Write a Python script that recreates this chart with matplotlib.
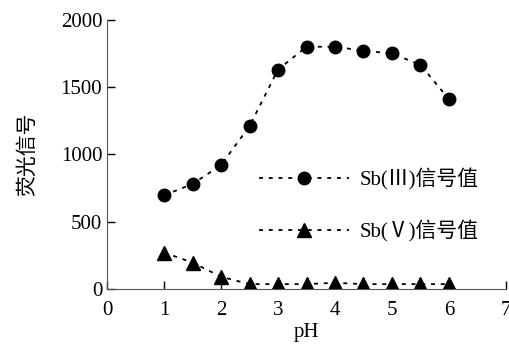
import matplotlib
matplotlib.use('Agg')
import matplotlib.pyplot as plt

plt.rcParams['font.family'] = ['Liberation Serif', 'Noto Sans CJK SC']

ph = [1, 1.5, 2, 2.5, 3, 3.5, 4, 4.5, 5, 5.5, 6]
sb3 = [695, 780, 920, 1210, 1630, 1800, 1800, 1770, 1750, 1665, 1410]
sb5 = [270, 195, 90, 35, 35, 35, 45, 35, 35, 35, 35]
xticks = [0, 1, 2, 3, 4, 5, 6, 7]
yticks = [0, 500, 1000, 1500, 2000]

fig = plt.figure(figsize=(5.1, 3.48), dpi=100)
ax = fig.add_axes([0.21, 0.17, 0.782, 0.773])

dash = (0, (2.2, 3.2))
ax.plot(ph, sb3, color='black', linestyle=dash, linewidth=1.3,
        marker='o', markersize=9, label='Sb(Ⅲ)信号值')
ax.plot(ph, sb5, color='black', linestyle=dash, linewidth=1.3,
        marker='^', markersize=9.5, label='Sb(Ⅴ)信号值')

ax.set_xlim(0, 7)
ax.set_ylim(0, 2000)
ax.set_xticks(xticks)
ax.set_yticks(yticks)
ax.tick_params(direction='in', length=6, width=1, labelsize=15, colors='black')
ax.tick_params(axis='x', pad=9)
ax.spines['top'].set_visible(False)
ax.spines['right'].set_visible(False)
for s in ['left', 'bottom']:
    ax.spines[s].set_color('#555555')

ax.set_xlabel('pH', fontsize=15, labelpad=2)
ax.set_ylabel('荧光信号', fontsize=15, labelpad=16)

ax.legend(loc='center left', bbox_to_anchor=(0.335, 0.31), frameon=False,
          fontsize=15, handlelength=4.3, handletextpad=0.5, labelspacing=1.45)

fig.savefig('out.png', dpi=100)
